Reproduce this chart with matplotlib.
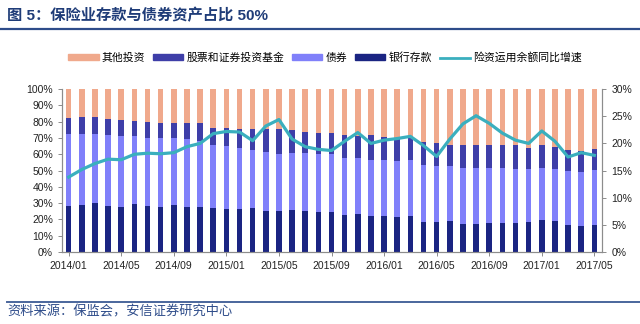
import matplotlib
matplotlib.use('Agg')
import matplotlib.pyplot as plt
from matplotlib.patches import Patch
from matplotlib.lines import Line2D
from matplotlib.ticker import PercentFormatter

plt.rcParams['font.family'] = ['Liberation Sans', 'Noto Sans CJK SC', 'DejaVu Sans']

# months 2014/01 .. 2017/05
months = [f'{2014 + i // 12}/{i % 12 + 1:02d}' for i in range(41)]

# shares of total investment (%)
deposit = [28.3, 28.7, 30.3, 28.3, 27.9, 29.5, 28.1, 27.9, 28.7, 27.9, 27.9, 26.8,
           26.6, 26.2, 26.8, 25.4, 25.0, 25.6, 25.0, 24.4, 24.4, 22.7, 23.2, 21.9,
           21.9, 21.5, 22.1, 18.4, 18.2, 18.9, 17.2, 17.4, 17.8, 17.8, 17.8, 18.6,
           19.5, 18.9, 16.8, 16.0, 16.8]
bond = [44.0, 43.6, 42.4, 43.4, 43.6, 42.0, 42.2, 41.8, 41.0, 41.2, 40.5, 39.0,
        38.4, 37.5, 36.1, 36.1, 35.0, 35.3, 35.5, 35.7, 35.6, 35.3, 34.8, 34.7,
        34.7, 34.6, 34.3, 34.9, 34.9, 33.8, 34.2, 34.4, 34.0, 34.0, 33.2, 32.4,
        32.3, 32.3, 33.2, 33.0, 33.8]
stock = [10.1, 10.3, 10.1, 9.9, 9.4, 9.2, 9.6, 9.8, 9.6, 10.0, 10.7, 10.6,
         11.0, 12.1, 12.9, 13.9, 15.4, 14.1, 13.3, 13.1, 13.2, 14.1, 13.5, 15.1,
         13.9, 14.2, 13.7, 14.1, 13.7, 13.3, 14.0, 13.6, 14.0, 14.0, 14.4, 12.9,
         13.6, 13.1, 12.5, 13.3, 12.7]
other = [round(100 - d - b - s, 1) for d, b, s in zip(deposit, bond, stock)]

# yoy growth of investment balance (%)
growth = [13.8, 15.2, 16.3, 17.1, 17.0, 18.0, 18.2, 18.1, 18.3, 19.4, 20.0, 21.8,
          22.2, 22.1, 20.5, 23.2, 24.4, 20.8, 19.4, 18.9, 18.7, 20.4, 22.0, 20.0,
          20.6, 20.9, 21.3, 19.6, 17.6, 20.8, 23.6, 25.1, 23.7, 21.9, 20.6, 20.0,
          22.3, 20.4, 17.5, 18.3, 17.8]

c_other = '#F0A98C'
c_stock = '#3E3EA8'
c_bond = '#8080FA'
c_dep = '#1A2482'
c_line = '#3AAFBE'

fig = plt.figure(figsize=(6.4, 3.24), dpi=100)
ax = fig.add_axes([0.097, 0.222, 0.844, 0.503])

x = list(range(len(months)))
w = 0.42
b1 = deposit
b2 = [a + b for a, b in zip(deposit, bond)]
b3 = [a + b for a, b in zip(b2, stock)]
ax.bar(x, deposit, w, color=c_dep, zorder=2)
ax.bar(x, bond, w, bottom=b1, color=c_bond, zorder=2)
ax.bar(x, stock, w, bottom=b2, color=c_stock, zorder=2)
ax.bar(x, other, w, bottom=b3, color=c_other, zorder=2)

ax.set_xlim(-0.5, 40.6)
ax.set_ylim(0, 100)
ax.set_yticks(range(0, 101, 10))
ax.yaxis.set_major_formatter(PercentFormatter(decimals=0))
ax.set_xticks(x[::4])
ax.set_xticklabels(months[::4])

ax2 = ax.twinx()
ax2.plot(x, growth, color=c_line, lw=2.3, zorder=3)
ax2.set_ylim(0, 30)
ax2.set_yticks(range(0, 31, 5))
ax2.yaxis.set_major_formatter(PercentFormatter(decimals=0))

for a in (ax, ax2):
    a.spines['top'].set_visible(False)
    for s in ('left', 'right', 'bottom'):
        a.spines[s].set_color('#8c8c8c')
        a.spines[s].set_linewidth(0.8)
    a.tick_params(labelsize=7.5, colors='#222222', length=3, width=0.7)
    a.tick_params(axis='both', color='#8c8c8c')

# title
fig.text(0.011, 0.953, '图 5：保险业存款与债券资产占比 50%', fontsize=11,
         fontweight='bold', color='#1F3C78', va='center', ha='left')
fig.add_artist(Line2D([0.0, 1.0], [0.91, 0.91], color='#2E4C8A', lw=1.6))

handles = [Patch(color=c_other), Patch(color=c_stock), Patch(color=c_bond),
           Patch(color=c_dep), Line2D([], [], color=c_line, lw=2)]
labels = ['其他投资', '股票和证券投资基金', '债券', '银行存款', '险资运用余额同比增速']
fig.legend(handles, labels, loc='center', bbox_to_anchor=(0.508, 0.822), ncol=5,
           frameon=False, fontsize=7.8, handlelength=2.8, handleheight=0.4,
           handletextpad=0.3, columnspacing=0.7)

# footer
fig.add_artist(Line2D([0.011, 1.0], [0.068, 0.068], color='#4A669C', lw=1.4))
fig.text(0.012, 0.036, '资料来源：保监会，安信证券研究中心', fontsize=9.5,
         color='#2E4C8A', va='center', ha='left', style='italic')

fig.savefig('out.png', dpi=100)
